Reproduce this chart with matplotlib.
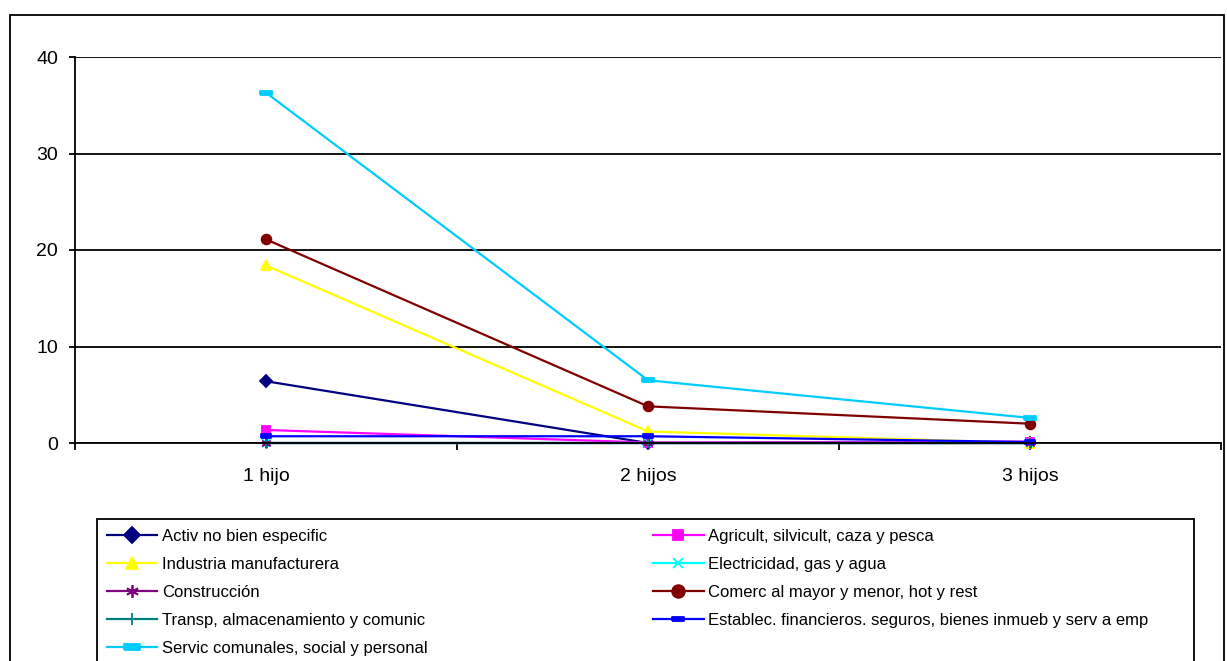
import matplotlib.pyplot as plt
from matplotlib.patches import Rectangle

plt.rcParams["font.family"] = ["Liberation Sans", "DejaVu Sans"]

# ---- Data ----
categories = ["1 hijo", "2 hijos", "3 hijos"]

activ = [6.4, 0.0, 0.0]
agricult = [1.35, 0.05, 0.15]
industria = [18.4, 1.2, 0.0]
electricidad = [0.0, 0.0, 0.0]
construccion = [0.0, 0.0, 0.0]
comerc = [21.1, 3.8, 2.0]
transp = [0.0, 0.0, 0.0]
establec = [0.7, 0.7, 0.1]
servic = [36.3, 6.5, 2.6]

labels = [
    "Activ no bien especific",
    "Agricult, silvicult, caza y pesca",
    "Industria manufacturera",
    "Electricidad, gas y agua",
    "Construcción",
    "Comerc al mayor y menor, hot y rest",
    "Transp, almacenamiento y comunic",
    "Establec. financieros. seguros, bienes inmueb y serv a emp",
    "Servic comunales, social y personal",
]

# ---- Figure ----
W, H = 1227, 661
fig = plt.figure(figsize=(W / 100, H / 100), dpi=100)
ax = fig.add_axes([75 / W, 1 - 443 / H, 1146 / W, 386 / H])

x = [0.5, 1.5, 2.5]
dash = [(-1, -0.35), (1, -0.35), (1, 0.35), (-1, 0.35), (-1, -0.35)]

styles = [
    (activ, "#000080", "D", 6),
    (agricult, "#FF00FF", "s", 6),
    (industria, "#FFFF00", "^", 7),
    (electricidad, "#00FFFF", "x", 6),
    (construccion, "#800080", (6, 2, 0), 7),
    (comerc, "#800000", "o", 7),
    (transp, "#008080", "+", 7),
    (establec, "#0000FF", dash, 7),
    (servic, "#00CCFF", dash, 9),
]

handles = []
for (vals, color, marker, ms), lab in zip(styles, labels):
    h, = ax.plot(x, vals, color=color, marker=marker, markersize=ms,
                 markerfacecolor=color, markeredgecolor=color,
                 markeredgewidth=1.3, linewidth=1.6, label=lab,
                 clip_on=False)
    handles.append(h)

ax.set_xlim(0, 3)
ax.set_ylim(0, 40)
ax.set_yticks([0, 10, 20, 30, 40])
ax.yaxis.grid(True, color="black", linewidth=1.3)
ax.set_axisbelow(True)

ax.set_xticks([0, 1, 2, 3])
ax.set_xticklabels([])
ax.set_xticks(x, minor=True)
ax.set_xticklabels(categories, minor=True)
ax.tick_params(axis="x", which="minor", length=0, pad=18, labelsize=14)
ax.tick_params(axis="x", which="major", length=5, width=1.3, direction="out")
ax.tick_params(axis="y", length=4.3, width=1.3, labelsize=14, pad=8)

for s in ["top", "right"]:
    ax.spines[s].set_visible(False)
for s in ["left", "bottom"]:
    ax.spines[s].set_linewidth(1.3)

# ---- Legend: two columns, filled row by row ----
leg_kw = dict(loc="upper left", fontsize=12, frameon=False,
              handlelength=3.05, handletextpad=0.3, labelspacing=0.79,
              borderpad=0.58, borderaxespad=0, markerscale=1.3)
col1 = [0, 2, 4, 6, 8]
col2 = [1, 3, 5, 7]
fig.legend([handles[i] for i in col1], [labels[i] for i in col1],
           bbox_to_anchor=(97 / W, 1 - 519 / H), **leg_kw)
fig.legend([handles[i] for i in col2], [labels[i] for i in col2],
           bbox_to_anchor=(643 / W, 1 - 519 / H), **leg_kw)

fig.patches.append(Rectangle((97 / W, -0.05), 1097 / W, 0.05 + 1 - 519 / H,
                             transform=fig.transFigure, fill=False,
                             edgecolor="black", linewidth=1.3))

# ---- Outer frame ----
fig.patches.append(Rectangle((10 / W, -0.05), 1214 / W, 1.05 - 15 / H,
                             transform=fig.transFigure, fill=False,
                             edgecolor="black", linewidth=1.3))

plt.savefig("out.png", dpi=100)
